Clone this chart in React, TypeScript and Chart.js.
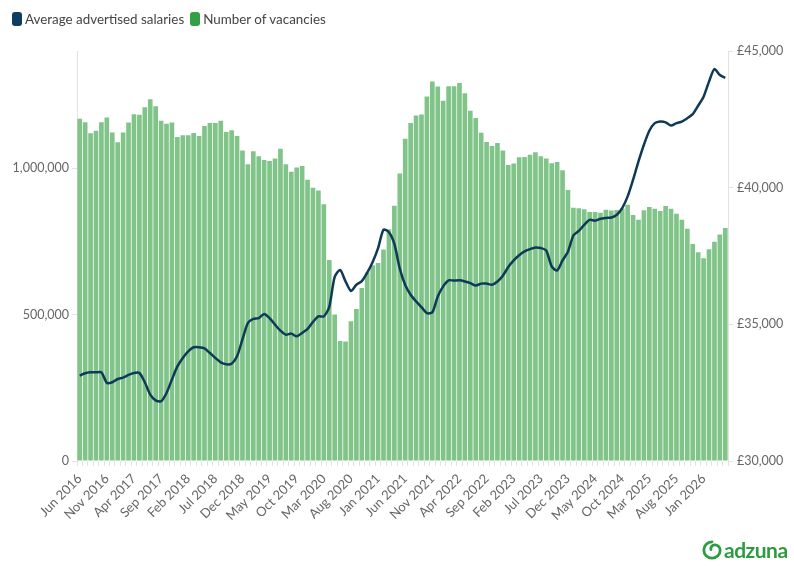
import React, { useEffect, useRef } from 'react';
import { Chart, registerables } from 'chart.js';

Chart.register(...registerables);

// ---- Categories (monthly, Jun 2016 → May 2026) ----
const MONTH_NAMES = ['Jan', 'Feb', 'Mar', 'Apr', 'May', 'Jun', 'Jul', 'Aug', 'Sep', 'Oct', 'Nov', 'Dec'];
const START_YEAR = 2016;
const START_MONTH_INDEX = 5; // June
const MONTH_COUNT = 120;
const categories: string[] = Array.from({ length: MONTH_COUNT }, (_, i) => {
  const m = START_MONTH_INDEX + i;
  return `${MONTH_NAMES[m % 12]} ${START_YEAR + Math.floor(m / 12)}`;
});
const LABEL_EVERY = 5;

// ---- Series: number of vacancies (left axis) ----
const vacancies: number[] = [
  1169000, 1157000, 1119000, 1128000, 1157000, 1173000, 1122000, 1088000, 1122000, 1156000,
  1184000, 1182000, 1208000, 1235000, 1211000, 1162000, 1152000, 1156000, 1106000, 1112000,
  1112000, 1120000, 1110000, 1144000, 1154000, 1154000, 1162000, 1123000, 1129000, 1110000,
  1060000, 1013000, 1058000, 1041000, 1028000, 1024000, 1033000, 1066000, 1013000, 988000,
  1002000, 1007000, 960000, 933000, 924000, 877000, 686000, 500000, 410000, 408000,
  477000, 519000, 591000, 644000, 668000, 676000, 722000, 791000, 872000, 982000,
  1100000, 1154000, 1180000, 1183000, 1245000, 1296000, 1279000, 1230000, 1280000, 1280000,
  1291000, 1256000, 1196000, 1171000, 1121000, 1089000, 1076000, 1086000, 1060000, 1011000,
  1016000, 1037000, 1038000, 1046000, 1054000, 1041000, 1033000, 1017000, 1021000, 993000,
  925000, 865000, 863000, 860000, 850000, 850000, 848000, 858000, 855000, 857000,
  862000, 875000, 840000, 824000, 856000, 867000, 861000, 854000, 871000, 861000,
  844000, 824000, 793000, 741000, 713000, 692000, 723000, 749000, 773000, 796000,
];

// ---- Series: average advertised salaries (right axis, £) ----
const salaries: number[] = [
  33120, 33210, 33245, 33245, 33245, 32860, 32880, 33000, 33050, 33150,
  33220, 33220, 32880, 32430, 32220, 32185, 32490, 32980, 33460, 33770,
  34010, 34160, 34160, 34120, 33950, 33770, 33610, 33540, 33560, 33830,
  34450, 35050, 35200, 35230, 35380, 35230, 34990, 34770, 34620, 34660,
  34560, 34680, 34830, 35090, 35290, 35290, 35640, 36740, 36990, 36570,
  36220, 36450, 36580, 36890, 37280, 37790, 38460, 38370, 37940, 37040,
  36440, 36080, 35840, 35630, 35410, 35440, 36020, 36390, 36610, 36600,
  36610, 36570, 36510, 36420, 36490, 36490, 36450, 36570, 36780, 37100,
  37340, 37530, 37670, 37750, 37810, 37790, 37700, 37120, 36970, 37340,
  37660, 38250, 38420, 38640, 38820, 38790, 38860, 38890, 38910, 39010,
  39250, 39680, 40290, 40960, 41570, 42080, 42360, 42420, 42390, 42270,
  42360, 42420, 42540, 42690, 43000, 43330, 43880, 44340, 44120, 44020,
];

// ---- Axis ticks ----
const vacancyTicks = [0, 500000, 1000000];
const vacancyMax = 1400000;
const salaryTicks = [30000, 35000, 40000, 45000];

const SERIES_SALARY = 'Average advertised salaries';
const SERIES_VACANCIES = 'Number of vacancies';

const NAVY = '#0f3a57';
const LEGEND_NAVY = '#0e3d63';
const LEGEND_GREEN = '#33a047';
const BAR_GREEN = '#80c489';
const LOGO_GREEN = '#2f9b40';
const TICK_COLOR = '#666666';
const AXIS_COLOR = '#e2e2e2';
const FONT = 'Lato, "Noto Sans", sans-serif';

export default function App() {
  const canvasRef = useRef<HTMLCanvasElement | null>(null);

  useEffect(() => {
    const canvas = canvasRef.current;
    if (!canvas) return;
    const tickFont = { family: FONT, size: 12.5 };
    const chart = new Chart(canvas, {
      data: {
        labels: categories,
        datasets: [
          {
            type: 'line',
            label: SERIES_SALARY,
            data: salaries,
            yAxisID: 'ySalary',
            borderColor: NAVY,
            backgroundColor: NAVY,
            borderWidth: 2.5,
            pointRadius: 0,
            tension: 0.25,
            order: 0,
          },
          {
            type: 'bar',
            label: SERIES_VACANCIES,
            data: vacancies,
            yAxisID: 'yVac',
            backgroundColor: BAR_GREEN,
            borderWidth: 0,
            barPercentage: 0.86,
            categoryPercentage: 1,
            order: 1,
          },
        ],
      } as any,
      options: {
        animation: false,
        responsive: false,
        layout: { padding: { top: 51, left: 0, right: 0, bottom: 0 } },
        plugins: {
          legend: { display: false },
          tooltip: { enabled: false },
        },
        scales: {
          x: {
            type: 'category',
            offset: true,
            grid: { display: true, drawOnChartArea: false, drawTicks: true, tickLength: 5, color: AXIS_COLOR },
            border: { display: false },
            ticks: {
              autoSkip: false,
              minRotation: 45,
              maxRotation: 45,
              padding: 5,
              color: TICK_COLOR,
              font: { family: FONT, size: 13 },
              callback: (_v: any, i: number) => (i % LABEL_EVERY === 0 ? categories[i] : ''),
            },
            afterFit: (s: any) => { s.height = 114; },
          },
          yVac: {
            type: 'linear',
            position: 'left',
            min: 0,
            max: vacancyMax,
            afterBuildTicks: (s: any) => { s.ticks = vacancyTicks.map((v) => ({ value: v })); },
            grid: { display: true, drawOnChartArea: false, drawTicks: true, tickLength: 5, color: AXIS_COLOR },
            border: { display: true, color: AXIS_COLOR },
            ticks: {
              padding: 3,
              color: TICK_COLOR,
              font: tickFont,
              callback: (v: any) => Number(v).toLocaleString('en-US'),
            },
            afterFit: (s: any) => { s.width = 77; },
          },
          ySalary: {
            type: 'linear',
            position: 'right',
            min: salaryTicks[0],
            max: salaryTicks[salaryTicks.length - 1],
            afterBuildTicks: (s: any) => { s.ticks = salaryTicks.map((v) => ({ value: v })); },
            grid: { display: true, drawOnChartArea: false, drawTicks: true, tickLength: 5, color: AXIS_COLOR },
            border: { display: true, color: AXIS_COLOR },
            ticks: {
              padding: 4,
              color: TICK_COLOR,
              font: tickFont,
              callback: (v: any) => '£' + Number(v).toLocaleString('en-US'),
            },
            afterFit: (s: any) => { s.width = 66; },
          },
        },
      } as any,
    });
    return () => chart.destroy();
  }, []);

  const legendItem = (color: string, text: string) => (
    <div style={{ display: 'flex', alignItems: 'center', marginRight: 6 }}>
      <span
        style={{
          display: 'inline-block',
          width: 10,
          height: 14,
          borderRadius: 3,
          background: color,
          marginRight: 3,
        }}
      />
      <span>{text}</span>
    </div>
  );

  return (
    <div
      style={{
        position: 'fixed',
        left: 0,
        top: 0,
        width: 794,
        height: 575,
        background: '#ffffff',
        overflow: 'hidden',
      }}
    >
      <canvas
        ref={canvasRef}
        width={794}
        height={575}
        style={{ position: 'absolute', left: 0, top: 0, width: 794, height: 575 }}
      />
      <div
        style={{
          position: 'absolute',
          left: 12,
          top: 11,
          display: 'flex',
          fontFamily: FONT,
          fontSize: 13.4,
          color: '#444444',
          lineHeight: '16px',
        }}
      >
        {legendItem(LEGEND_NAVY, SERIES_SALARY)}
        {legendItem(LEGEND_GREEN, SERIES_VACANCIES)}
      </div>
      <div
        style={{
          position: 'absolute',
          left: 702,
          top: 537,
          display: 'flex',
          alignItems: 'center',
          color: LOGO_GREEN,
          fontFamily: FONT,
          fontWeight: 700,
          fontSize: 21,
          letterSpacing: -0.5,
        }}
      >
        <svg width="20" height="20" viewBox="0 0 20 20" style={{ marginRight: 2 }}>
          <path
            d="M10 1.8 A8.2 8.2 0 1 0 18.2 10 A5.4 5.4 0 0 0 12.6 4.8 A3.8 3.8 0 0 0 9 9.6"
            fill="none"
            stroke={LOGO_GREEN}
            strokeWidth="2.8"
            strokeLinecap="round"
          />
        </svg>
        <span>adzuna</span>
      </div>
    </div>
  );
}
